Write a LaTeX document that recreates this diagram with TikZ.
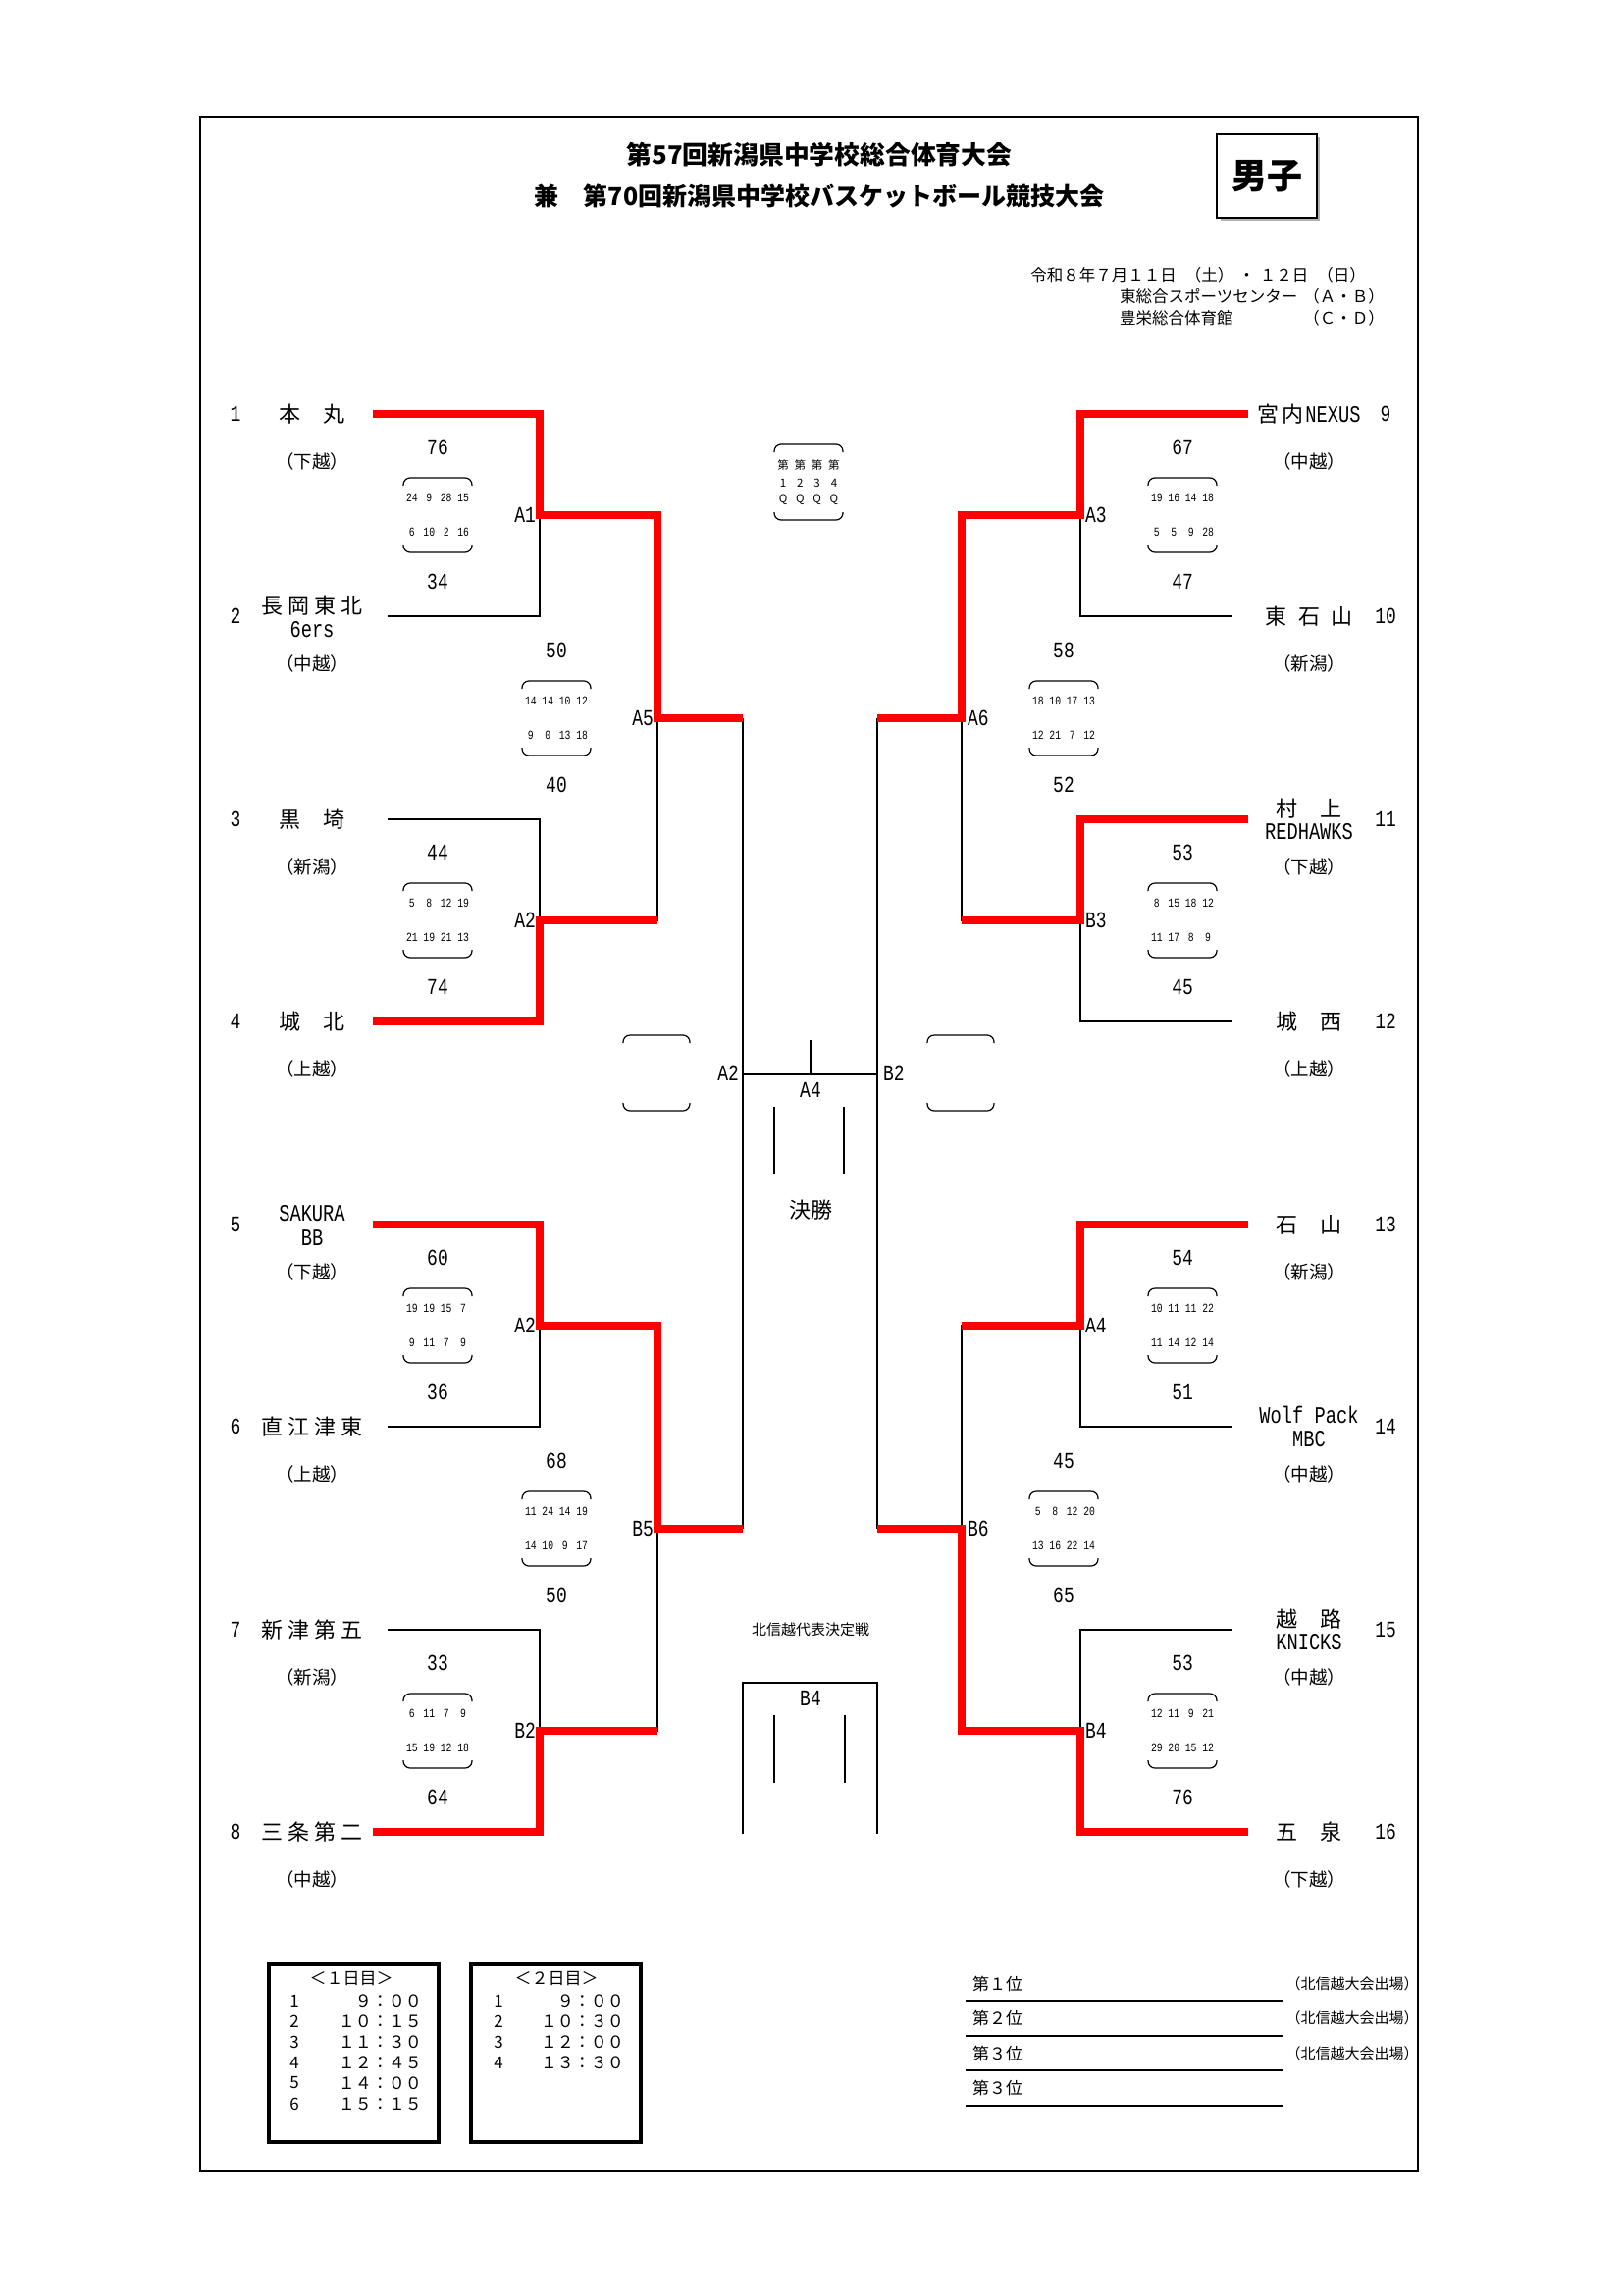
\documentclass[tikz,border=0pt]{standalone}
\usepackage{fontspec}
\setmainfont{Noto Sans CJK JP}
\newfontfamily\lat{Liberation Mono}[FakeStretch=0.78]
\definecolor{winred}{RGB}{255,0,0}
\newcommand\boxarcs[4]{% cx, top, bottom, halfwidth
  \draw[arcline] ({#1-#4},{#2+8}) -- ({#1-#4},{#2}) -- ({#1+#4},{#2}) -- ({#1+#4},{#2+8});
  \draw[arcline] ({#1-#4},{#3-8}) -- ({#1-#4},{#3}) -- ({#1+#4},{#3}) -- ({#1+#4},{#3-8});
}
\newcommand\scoreset[7]{% name, cx, my, top, row1, row2, bottom
  \node[score] (#1t) at ({#2},{#3-69}) {#4};
  \node[score] (#1b) at ({#2},{#3+68}) {#7};
  \boxarcs{#2}{#3-38}{#3+38}{35}
  \foreach \v [count=\i] in {#5} {\node[qs] (#1u\i) at ({#2+(\i-2.5)*17.4},{#3-17.5}) {\v};}
  \foreach \v [count=\i] in {#6} {\node[qs] (#1l\i) at ({#2+(\i-2.5)*17.4},{#3+17.5}) {\v};}
}
\newcommand\rgn[1]{（#1）}
\begin{document}
\begin{tikzpicture}[x=1pt,y=-1pt,
  tl/.style={line width=1.4pt},
  win/.style={line width=8.5pt, draw=winred},
  arcline/.style={line width=1.2pt, rounded corners=7pt},
  score/.style={font=\lat\fontsize{23}{23}\selectfont, inner sep=0pt},
  qs/.style={font=\lat\fontsize{12.5}{12.5}\selectfont, inner sep=0pt},
  lab/.style={font=\lat\fontsize{23}{23}\selectfont, inner sep=0pt},
  num/.style={font=\lat\fontsize{23}{23}\selectfont, inner sep=0pt},
  nm/.style={font=\fontsize{22}{24}\selectfont, inner sep=0pt},
  ln/.style={font=\lat\fontsize{24}{24}\selectfont, inner sep=0pt},
  rg/.style={font=\fontsize{18.5}{19}\selectfont, inner sep=0pt},
  small/.style={font=\fontsize{16.5}{18}\selectfont, inner sep=0pt},
  hdr/.style={font=\fontsize{11.5}{12}\selectfont, inner sep=0pt},
  sch/.style={font=\fontsize{17}{18}\selectfont, inner sep=0pt},
  sched/.style={line width=3.8pt},
  rk/.style={line width=1.8pt}
]
\fill[white] (0,0) rectangle (1654,2339);
\useasboundingbox (0,0) rectangle (1654,2339);

% frame
\draw[line width=1.8pt] (204,119) rectangle (1445,2213);

% titles
\node[font=\fontsize{25.8}{28}\selectfont\bfseries, inner sep=0pt] (title1) at (835,158) {第57回新潟県中学校総合体育大会};
\node[font=\fontsize{25}{28}\selectfont\bfseries, inner sep=0pt] (title2) at (835,200) {兼　第70回新潟県中学校バスケットボール競技大会};
\draw[gray!60, line width=1.5pt] (1244,224) -- (1344,224) -- (1344,140);
\draw[line width=2pt] (1240,137) rectangle (1342,222);
\node[font=\fontsize{36}{38}\selectfont\bfseries, inner sep=0pt] (danshi) at (1291,180) {男子};

\node[small, anchor=east] (date) at (1392,280) {令和８年７月１１日\hspace{9pt}（土）\hspace{5pt}・\hspace{5pt}１２日\hspace{9pt}（日）};
\node[small, anchor=west] (ven1) at (1141,302) {東総合スポーツセンター};
\node[small, anchor=east] (ven1c) at (1411,302) {（Ａ・Ｂ）};
\node[small, anchor=west] (ven2) at (1141,324) {豊栄総合体育館};
\node[small, anchor=east] (ven2c) at (1411,324) {（Ｃ・Ｄ）};

% coordinates
\coordinate (T1) at (380,422);  \coordinate (T2) at (395,628);
\coordinate (T3) at (395,835);  \coordinate (T4) at (380,1041);
\coordinate (T5) at (380,1248); \coordinate (T6) at (395,1454);
\coordinate (T7) at (395,1661); \coordinate (T8) at (380,1867);
\coordinate (T9) at (1272,422);  \coordinate (T10) at (1256,628);
\coordinate (T11) at (1272,835); \coordinate (T12) at (1256,1041);
\coordinate (T13) at (1272,1248);\coordinate (T14) at (1256,1454);
\coordinate (T15) at (1256,1661);\coordinate (T16) at (1272,1867);
\coordinate (JA1) at (550,525);  \coordinate (JA2) at (550,938);
\coordinate (JA2b) at (550,1351);\coordinate (JB2) at (550,1764);
\coordinate (JA5) at (670,732);  \coordinate (JB5) at (670,1558);
\coordinate (JA3) at (1101,525); \coordinate (JB3) at (1101,938);
\coordinate (JA4) at (1101,1351);\coordinate (JB4) at (1101,1764);
\coordinate (JA6) at (980,732);  \coordinate (JB6) at (980,1558);
\coordinate (FA5) at (757,732);  \coordinate (FB5) at (757,1558);
\coordinate (FA6) at (894,732);  \coordinate (FB6) at (894,1558);
\coordinate (FL) at (757,1095);  \coordinate (FR) at (894,1095);
\coordinate (FT) at (826,1095);  \coordinate (FTt) at (826,1060);

% black bracket lines
\draw[tl] (T2) -| (JA1);
\draw[tl] (T3) -| (JA2);
\draw[tl] (T6) -| (JA2b);
\draw[tl] (T7) -| (JB2);
\draw[tl] (JA2) -| (JA5);
\draw[tl] (JB2) -| (JB5);
\draw[tl] (FA5) -- (FB5);
\draw[tl] (T10) -| (JA3);
\draw[tl] (T12) -| (JB3);
\draw[tl] (T14) -| (JA4);
\draw[tl] (T15) -| (JB4);
\draw[tl] (JB3) -| (JA6);
\draw[tl] (JA4) -| (JB6);
\draw[tl] (FA6) -- (FB6);
\draw[tl] (FL) -- (FR);
\draw[tl] (FTt) -- (FT);

% red winner paths
\draw[win] (T1) -| (JA1) -| (JA5) -- (FA5);
\draw[win] (T4) -| (JA2) -- (JA5 |- JA2);
\draw[win] (T5) -| (JA2b) -| (JB5) -- (FB5);
\draw[win] (T8) -| (JB2) -- (JB5 |- JB2);
\draw[win] (T9) -| (JA3) -| (JA6) -- (FA6);
\draw[win] (T11) -| (JB3) -- (JA6 |- JB3);
\draw[win] (T13) -| (JA4) -- (JB6 |- JA4);
\draw[win] (T16) -| (JB4) -| (JB6) -- (FB6);

% match labels
\node[lab, anchor=east] (lA1) at (546,525) {A1};
\node[lab, anchor=east] (lA2) at (546,938) {A2};
\node[lab, anchor=east] (lA2b) at (546,1351) {A2};
\node[lab, anchor=east] (lB2) at (546,1764) {B2};
\node[lab, anchor=east] (lA5) at (666,732) {A5};
\node[lab, anchor=east] (lB5) at (666,1558) {B5};
\node[lab, anchor=west] (lA3) at (1106,525) {A3};
\node[lab, anchor=west] (lB3) at (1106,938) {B3};
\node[lab, anchor=west] (lA4) at (1106,1351) {A4};
\node[lab, anchor=west] (lB4) at (1106,1764) {B4};
\node[lab, anchor=west] (lA6) at (986,732) {A6};
\node[lab, anchor=west] (lB6) at (986,1558) {B6};
\node[lab, anchor=east] (fA2) at (753,1094) {A2};
\node[lab, anchor=west] (fB2) at (900,1094) {B2};
\node[lab] (fA4) at (826,1111) {A4};

% scores
\scoreset{A1}{446}{525}{76}{24,9,28,15}{6,10,2,16}{34}
\scoreset{A2}{446}{938}{44}{5,8,12,19}{21,19,21,13}{74}
\scoreset{A2b}{446}{1351}{60}{19,19,15,7}{9,11,7,9}{36}
\scoreset{B2}{446}{1764}{33}{6,11,7,9}{15,19,12,18}{64}
\scoreset{A5}{567}{732}{50}{14,14,10,12}{9,0,13,18}{40}
\scoreset{B5}{567}{1558}{68}{11,24,14,19}{14,10,9,17}{50}
\scoreset{A3}{1205}{525}{67}{19,16,14,18}{5,5,9,28}{47}
\scoreset{B3}{1205}{938}{53}{8,15,18,12}{11,17,8,9}{45}
\scoreset{A4}{1205}{1351}{54}{10,11,11,22}{11,14,12,14}{51}
\scoreset{B4}{1205}{1764}{53}{12,11,9,21}{29,20,15,12}{76}
\scoreset{A6}{1084}{732}{58}{18,10,17,13}{12,21,7,12}{52}
\scoreset{B6}{1084}{1558}{45}{5,8,12,20}{13,16,22,14}{65}

% header quarter box
\boxarcs{824}{453}{530}{35}
\foreach \q [count=\i] in {1,2,3,4} {
  \node[hdr] (hd\i) at ({824+(\i-2.5)*17.3},474) {第};
  \node[hdr] (hn\i) at ({824+(\i-2.5)*17.3},492) {\q};
  \node[hdr] (hq\i) at ({824+(\i-2.5)*17.3},509) {Q};
}

% empty side boxes of the final
\boxarcs{669}{1055}{1132}{34}
\boxarcs{979}{1055}{1132}{34}
\draw[tl] (789,1128) -- (789,1197);
\draw[tl] (860,1128) -- (860,1197);
\node[font=\fontsize{22}{24}\selectfont, inner sep=0pt] (final) at (826,1233) {決勝};

% Hokushinetsu playoff
\node[font=\fontsize{15}{16}\selectfont, inner sep=0pt] (hse) at (826,1661) {北信越代表決定戦};
\coordinate (BB1) at (757,1869); \coordinate (BB2) at (757,1715);
\coordinate (BB3) at (894,1715); \coordinate (BB4) at (894,1869);
\draw[tl] (BB1) -- (BB2) -- (BB3) -- (BB4);
\node[lab] (mB4) at (826,1731) {B4};
\draw[tl] (789,1748) -- (789,1817);
\draw[tl] (861,1748) -- (861,1817);

% left teams
\node[num] (n1) at (240,422) {1};
\node[nm] (t1) at (318,422) {本\hspace{24pt}丸};
\node[rg] (r1) at (318,470) {\rgn{下越}};
\node[num] (n2) at (240,628) {2};
\node[nm] (t2) at (318,617) {長\hspace{5pt}岡\hspace{5pt}東\hspace{5pt}北};
\node[ln] (t2b) at (318,642) {6ers};
\node[rg] (r2) at (318,676) {\rgn{中越}};
\node[num] (n3) at (240,835) {3};
\node[nm] (t3) at (318,835) {黒\hspace{24pt}埼};
\node[rg] (r3) at (318,883) {\rgn{新潟}};
\node[num] (n4) at (240,1041) {4};
\node[nm] (t4) at (318,1041) {城\hspace{24pt}北};
\node[rg] (r4) at (318,1089) {\rgn{上越}};
\node[num] (n5) at (240,1248) {5};
\node[ln] (t5) at (318,1237) {SAKURA};
\node[ln] (t5b) at (318,1262) {BB};
\node[rg] (r5) at (318,1296) {\rgn{下越}};
\node[num] (n6) at (240,1454) {6};
\node[nm] (t6) at (318,1454) {直\hspace{5pt}江\hspace{5pt}津\hspace{5pt}東};
\node[rg] (r6) at (318,1502) {\rgn{上越}};
\node[num] (n7) at (240,1661) {7};
\node[nm] (t7) at (318,1661) {新\hspace{5pt}津\hspace{5pt}第\hspace{5pt}五};
\node[rg] (r7) at (318,1709) {\rgn{新潟}};
\node[num] (n8) at (240,1867) {8};
\node[nm] (t8) at (318,1867) {三\hspace{5pt}条\hspace{5pt}第\hspace{5pt}二};
\node[rg] (r8) at (318,1915) {\rgn{中越}};

% right teams
\node[num] (n9) at (1412,422) {9};
\node[nm] (t9) at (1334,422) {宮\hspace{3pt}内\hspace{2pt}{\lat\fontsize{24}{24}\selectfont NEXUS}};
\node[rg] (r9) at (1334,470) {\rgn{中越}};
\node[num] (n10) at (1412,628) {10};
\node[nm] (t10) at (1334,628) {東\hspace{12pt}石\hspace{12pt}山};
\node[rg] (r10) at (1334,676) {\rgn{新潟}};
\node[num] (n11) at (1412,835) {11};
\node[nm] (t11) at (1334,824) {村\hspace{24pt}上};
\node[ln] (t11b) at (1334,848) {REDHAWKS};
\node[rg] (r11) at (1334,883) {\rgn{下越}};
\node[num] (n12) at (1412,1041) {12};
\node[nm] (t12) at (1334,1041) {城\hspace{24pt}西};
\node[rg] (r12) at (1334,1089) {\rgn{上越}};
\node[num] (n13) at (1412,1248) {13};
\node[nm] (t13) at (1334,1248) {石\hspace{24pt}山};
\node[rg] (r13) at (1334,1296) {\rgn{新潟}};
\node[num] (n14) at (1412,1454) {14};
\node[ln] (t14) at (1334,1442) {Wolf Pack};
\node[ln] (t14b) at (1334,1467) {MBC};
\node[rg] (r14) at (1334,1502) {\rgn{中越}};
\node[num] (n15) at (1412,1661) {15};
\node[nm] (t15) at (1334,1650) {越\hspace{24pt}路};
\node[ln] (t15b) at (1334,1674) {KNICKS};
\node[rg] (r15) at (1334,1709) {\rgn{中越}};
\node[num] (n16) at (1412,1867) {16};
\node[nm] (t16) at (1334,1867) {五\hspace{24pt}泉};
\node[rg] (r16) at (1334,1915) {\rgn{下越}};

% schedule boxes
\draw[sched] (274,2002) rectangle (447,2183);
\node[sch] (s1h) at (358,2016) {＜１日目＞};
\foreach \t [count=\i] in {９：００,１０：１５,１１：３０,１２：４５,１４：００,１５：１５} {
  \node[sch] (s1n\i) at (300,{2039+(\i-1)*21}) {\i};
  \node[sch, anchor=east] (s1t\i) at (430,{2039+(\i-1)*21}) {\t};
}
\draw[sched] (480,2002) rectangle (653,2183);
\node[sch] (s2h) at (567,2016) {＜２日目＞};
\foreach \t [count=\i] in {９：００,１０：３０,１２：００,１３：３０} {
  \node[sch] (s2n\i) at (508,{2039+(\i-1)*21}) {\i};
  \node[sch, anchor=east] (s2t\i) at (636,{2039+(\i-1)*21}) {\t};
}

% rankings
\draw[rk] (984,2039) -- (1308,2039);
\draw[rk] (984,2075) -- (1308,2075);
\draw[rk] (984,2110) -- (1308,2110);
\draw[rk] (984,2146) -- (1308,2146);
\node[sch, anchor=west] (p1) at (991,2022) {第１位};
\node[sch, anchor=west] (p2) at (991,2057) {第２位};
\node[sch, anchor=west] (p3) at (991,2093) {第３位};
\node[sch, anchor=west] (p4) at (991,2128) {第３位};
\node[font=\fontsize{15}{16}\selectfont, inner sep=0pt] (q1) at (1378,2022) {（北信越大会出場）};
\node[font=\fontsize{15}{16}\selectfont, inner sep=0pt] (q2) at (1378,2057) {（北信越大会出場）};
\node[font=\fontsize{15}{16}\selectfont, inner sep=0pt] (q3) at (1378,2093) {（北信越大会出場）};
\end{tikzpicture}
\end{document}
